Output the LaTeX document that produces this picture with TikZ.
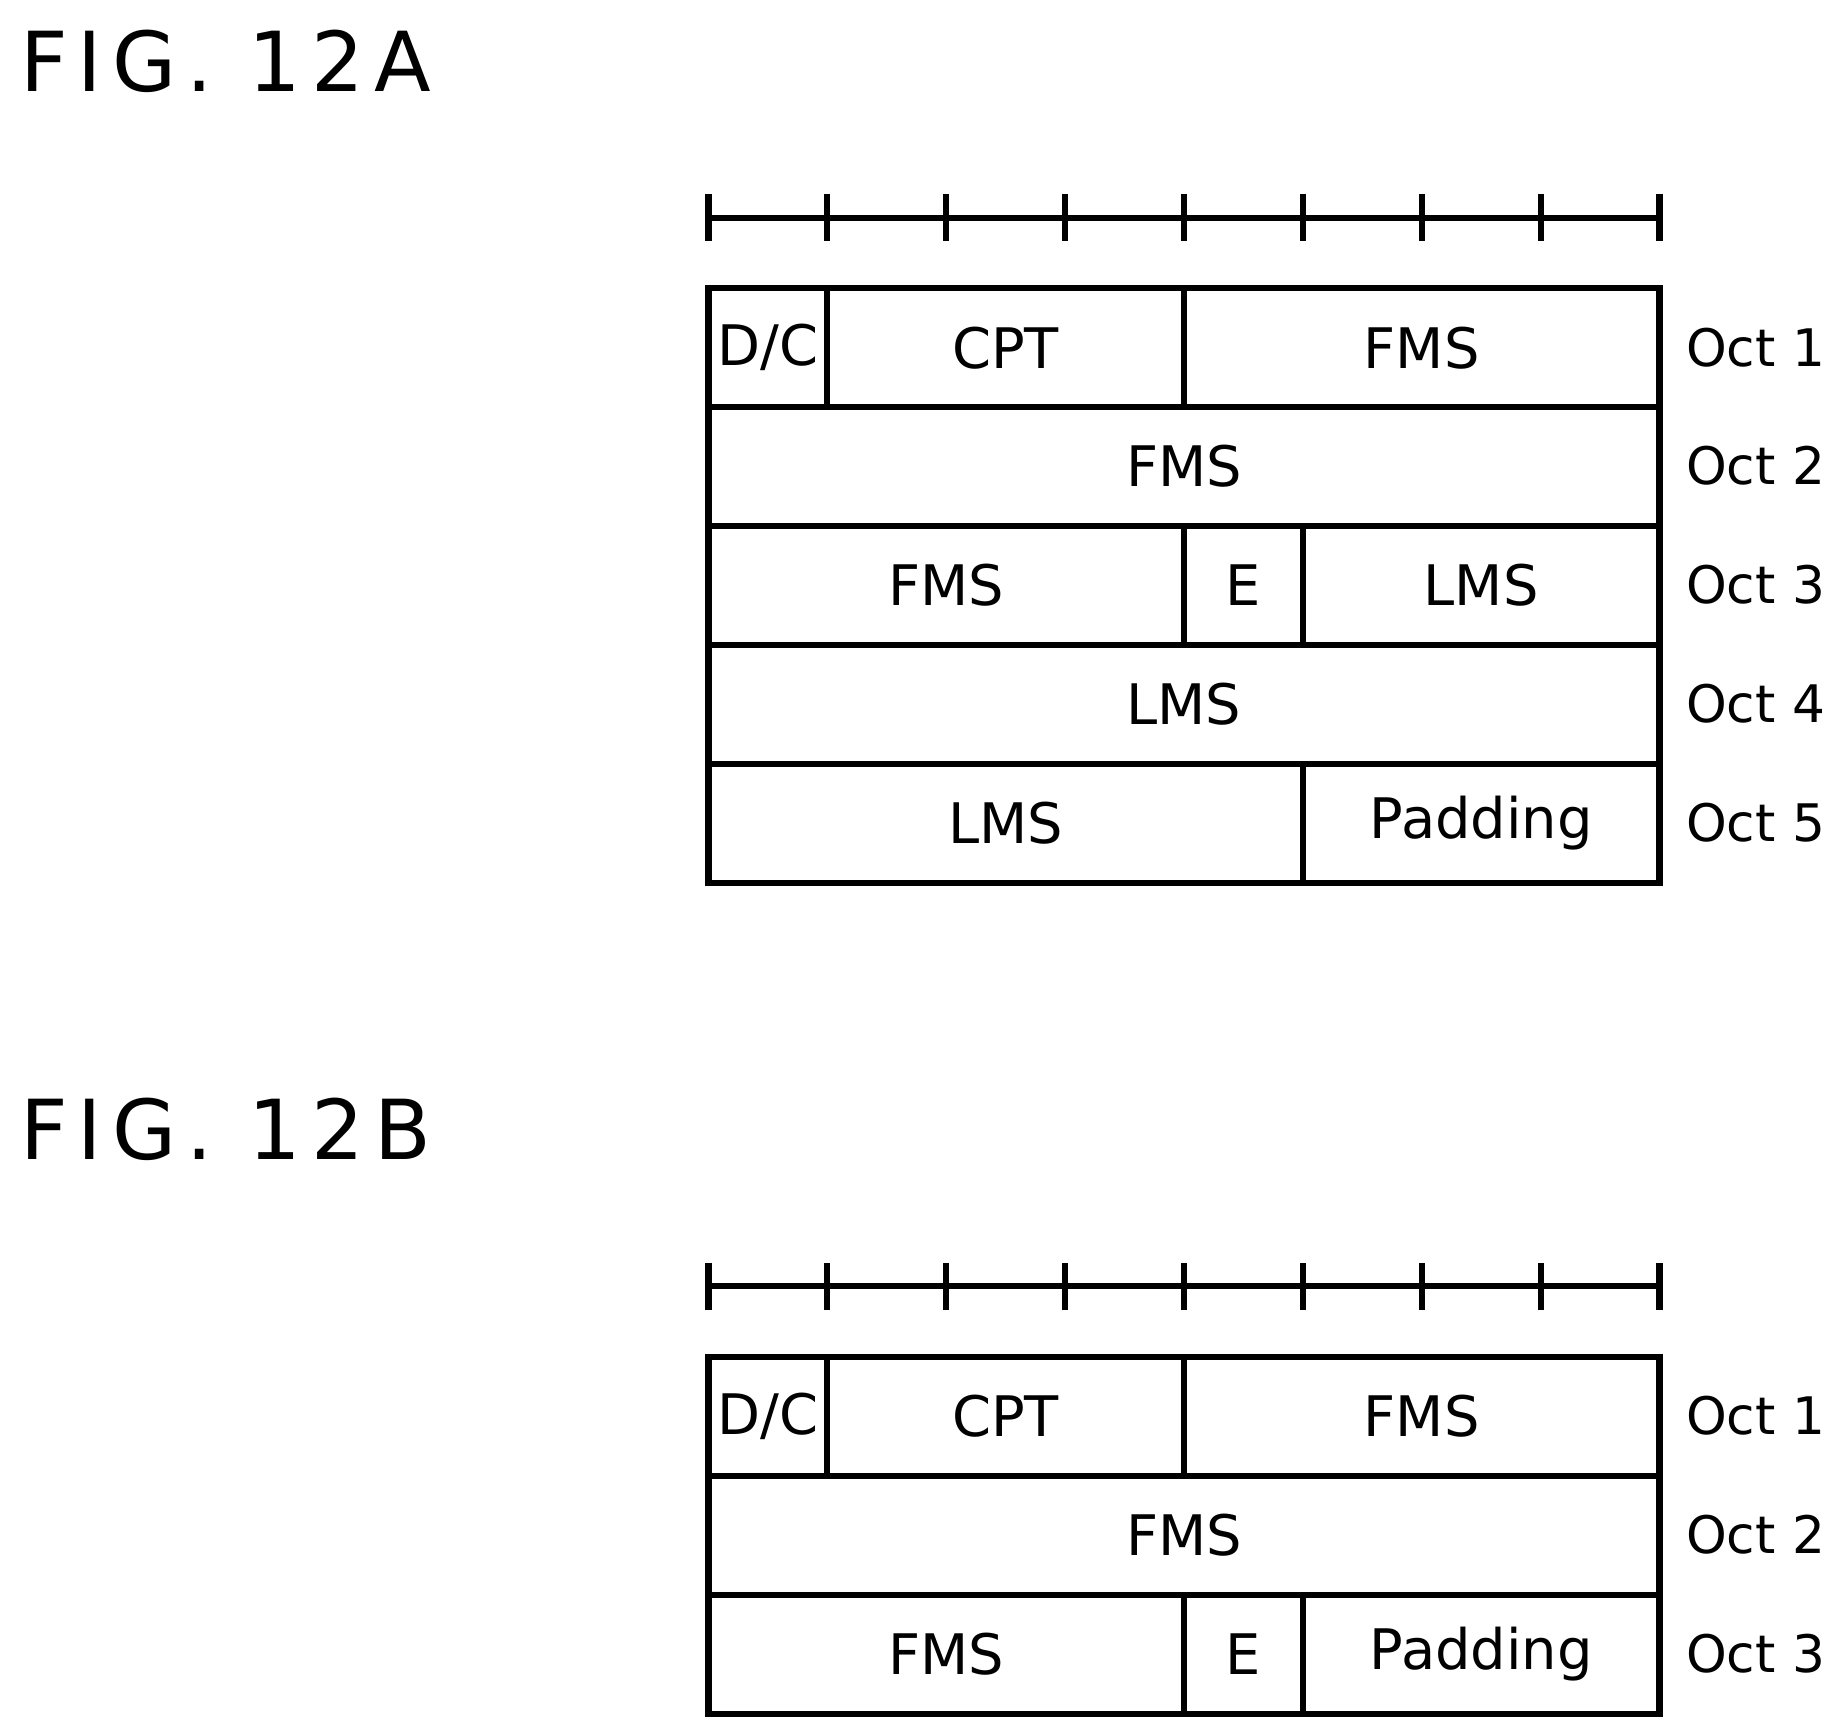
\documentclass[tikz,border=0pt]{standalone}
\usepackage{fontspec}
\setmainfont{DejaVu Sans}
\usetikzlibrary{positioning}

% one field of an octet row: name, left, top, right, bottom, text
\newcommand{\octcell}[6]{%
  \node[cell, minimum width={(#4-#2)*0.01cm}, minimum height={(#5-#3)*0.01cm}]
    (#1) at ({(#2+#4)/2},{(#3+#5)/2}) {#6};}

\begin{document}
\begin{tikzpicture}[
    x=0.01cm, y=-0.01cm,
    cell/.style={rectangle, draw, line width=1.5pt, inner sep=0pt, font=\fontsize{13.5}{16}\selectfont},
    octlabel/.style={anchor=west, inner sep=0pt, font=\fontsize{12.5}{15}\selectfont},
    figtitle/.style={anchor=west, font=\fontsize{20}{24}\selectfont\addfontfeatures{LetterSpace=12}},
    ruler/.style={line width=1.5pt},
]
    \useasboundingbox (0,0) rectangle (1560,1470);

    % FIG. 12A
    \node[figtitle] (titleA) at (5,52) {FIG. 12A};
    \draw[ruler] (602,185) -- (1410,185);
    \foreach \x in {602,703,...,1410}
        \draw[ruler] (\x,165) -- (\x,205);

    \octcell{a11}{602}{245}{703}{346}{D/C}
    \octcell{a12}{703}{245}{1006}{346}{CPT}
    \octcell{a13}{1006}{245}{1410}{346}{FMS}
    \octcell{a21}{602}{346}{1410}{447}{FMS}
    \octcell{a31}{602}{447}{1006}{548}{FMS}
    \octcell{a32}{1006}{447}{1107}{548}{E}
    \octcell{a33}{1107}{447}{1410}{548}{LMS}
    \octcell{a41}{602}{548}{1410}{649}{LMS}
    \octcell{a51}{602}{649}{1107}{750}{LMS}
    \octcell{a52}{1107}{649}{1410}{750}{Padding}
    \foreach \r/\y in {1/295,2/396,3/497,4/598,5/699}
        \node[octlabel] (octA\r) at (1432,\y) {Oct \r};

    % FIG. 12B
    \node[figtitle] (titleB) at (5,960) {FIG. 12B};
    \draw[ruler] (602,1093) -- (1410,1093);
    \foreach \x in {602,703,...,1410}
        \draw[ruler] (\x,1073) -- (\x,1113);

    \octcell{b11}{602}{1153}{703}{1254}{D/C}
    \octcell{b12}{703}{1153}{1006}{1254}{CPT}
    \octcell{b13}{1006}{1153}{1410}{1254}{FMS}
    \octcell{b21}{602}{1254}{1410}{1355}{FMS}
    \octcell{b31}{602}{1355}{1006}{1456}{FMS}
    \octcell{b32}{1006}{1355}{1107}{1456}{E}
    \octcell{b33}{1107}{1355}{1410}{1456}{Padding}
    \foreach \r/\y in {1/1203,2/1304,3/1405}
        \node[octlabel] (octB\r) at (1432,\y) {Oct \r};
\end{tikzpicture}
\end{document}
